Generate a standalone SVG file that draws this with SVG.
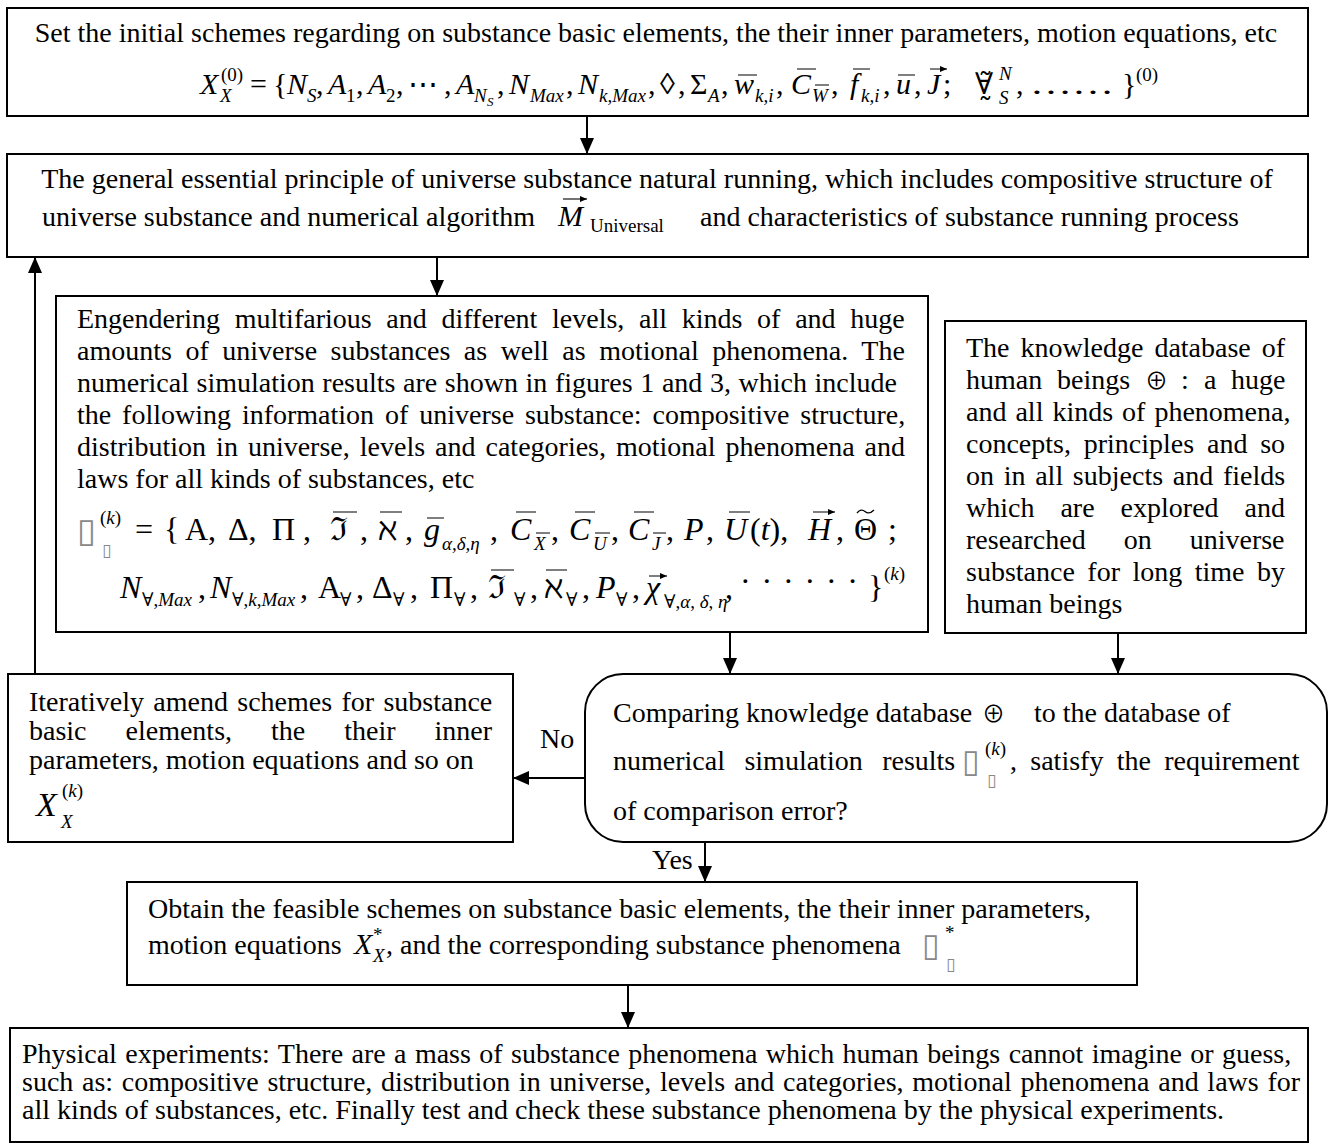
<svg xmlns="http://www.w3.org/2000/svg" width="1330" height="1148" viewBox="0 0 1330 1148">
<defs>
<marker id="ah" markerUnits="userSpaceOnUse" markerWidth="16" markerHeight="14" refX="16" refY="7" orient="auto"><path d="M0,0 L16,7 L0,14 Z" fill="#000"/></marker>
<marker id="vh" markerUnits="userSpaceOnUse" markerWidth="7" markerHeight="6" refX="7" refY="3" orient="auto"><path d="M0,0 L7,3 L0,6 Z" fill="#000"/></marker>
<style>
text{font-family:"Liberation Serif","Times New Roman",serif;fill:#000}
.t{font-size:28px}
.c{text-anchor:middle}
.fi{font-size:30px;font-style:italic}
.fu{font-size:30px}
.Fi{font-size:32px;font-style:italic}
.Fu{font-size:32px}
.s{font-size:19px}
.si{font-size:19px;font-style:italic}
.xs{font-size:13px;font-style:italic}
.i{font-style:italic}
.sym{font-family:"DejaVu Serif","Liberation Serif",serif}
.op{font-family:"Noto Sans CJK SC","DejaVu Sans",sans-serif}
.tofu{font-family:"DejaVu Sans",sans-serif;fill:#888}
.box{fill:#fff;stroke:#000;stroke-width:2}
.con{fill:none;stroke:#000;stroke-width:2;marker-end:url(#ah)}
.v{fill:none;stroke:#000;stroke-width:1.1;marker-end:url(#vh)}
.tl{fill:none;stroke:#000;stroke-width:1.3}
</style>
</defs>
<g id="connectors">
<path class="con" d="M587,116 V154"/>
<path class="con" d="M437,257 V296"/>
<path class="con" d="M730,632 V674"/>
<path class="con" d="M1118,633 V674"/>
<path class="con" d="M585,778 H513"/>
<path class="con" d="M35,674 V257"/>
<path class="con" d="M705,842 V882"/>
<path class="con" d="M628,985 V1028"/>
<text class="t" x="540" y="748">No</text>
<text class="t" x="652" y="869">Yes</text>
</g>
<g id="n1">
<rect class="box" x="7" y="8" width="1301" height="108"/>
<text class="t c" x="656" y="42">Set the initial schemes regarding on substance basic elements, the their inner parameters, motion equations, etc</text>
<text class="fi" x="200" y="94">X</text><text class="si" x="220" y="102">X</text><text class="s" x="221" y="81">(0)</text>
<text class="fu" x="250" y="94">=</text><text class="fu" x="273" y="94">{</text>
<text class="fi" x="287" y="94">N</text><text class="si" x="307" y="102">S</text><text class="fu" x="316" y="94">,</text>
<text class="fi" x="328" y="94">A</text><text class="s" x="346" y="102">1</text><text class="fu" x="356" y="94">,</text>
<text class="fi" x="368" y="94">A</text><text class="s" x="386" y="102">2</text><text class="fu" x="396" y="94">,</text>
<text class="fu sym" x="408" y="94">⋯</text><text class="fu" x="444" y="94">,</text>
<text class="fi" x="456" y="94">A</text><text class="si" x="474" y="102">N</text><text class="xs" x="487" y="106">S</text><text class="fu" x="497" y="94">,</text>
<text class="fi" x="509" y="94">N</text><text class="si" x="530" y="102">Max</text><text class="fu" x="566" y="94">,</text>
<text class="fi" x="578" y="94">N</text><text class="si" x="599" y="102">k,Max</text><text class="fu" x="648" y="94">,</text>
<text class="fu" x="660" y="94">◊</text><text class="fu" x="678" y="94">,</text>
<text class="fu" x="690" y="94">Σ</text><text class="si" x="708" y="102">A</text><text class="fu" x="721" y="94">,</text>
<text class="fi" x="734" y="94">w</text><text class="si" x="755" y="102">k,i</text><text class="fu" x="776" y="94">,</text>
<text class="fi" x="791" y="94">C</text><text class="si" x="812" y="102">W</text><text class="fu" x="831" y="94">,</text>
<text class="fi" x="850" y="94">f</text><text class="si" x="861" y="102">k,i</text><text class="fu" x="883" y="94">,</text>
<text class="fi" x="896" y="94">u</text><text class="fu" x="914" y="94">,</text>
<text class="fi" x="927" y="94">J</text><text class="fu" x="943" y="94">;</text>
<text class="fu sym" x="975" y="94">∀̰̃</text>
<text class="si" x="999" y="80">N</text><text class="si" x="999" y="104">S</text><text class="fu" x="1016" y="94">,</text>
<text class="fu" x="1030" y="94" textLength="84" lengthAdjust="spacingAndGlyphs">……</text>
<text class="fu" x="1122" y="94">}</text><text class="s" x="1136" y="81">(0)</text>
<path class="v" d="M738,75 H757 M797,69 H816 M815,85 H829 M853,69 H870 M898,75 H915 M930,69 H947"/>
</g>
<g id="n2">
<rect class="box" x="7" y="154" width="1301" height="103"/>
<text class="t c" x="657" y="188">The general essential principle of universe substance natural running, which includes compositive structure of</text>
<text class="t" x="42" y="226">universe substance and numerical algorithm</text>
<text class="fi" x="558" y="226">M</text><text class="s" x="590" y="232" font-size="17">Universal</text>
<path class="v" d="M563,199 H587"/>
<text class="t" x="700" y="226">and characteristics of substance running process</text>
</g>
<g id="n3">
<rect class="box" x="56" y="296" width="872" height="336"/>
<text class="t" x="77" y="328" word-spacing="7.7">Engendering multifarious and different levels, all kinds of and huge</text>
<text class="t" x="77" y="360" word-spacing="6.5">amounts of universe substances as well as motional phenomena. The</text>
<text class="t" x="77" y="392" word-spacing="0.6">numerical simulation results are shown in figures 1 and 3, which include</text>
<text class="t" x="77" y="424" word-spacing="3.9">the following information of universe substance: compositive structure,</text>
<text class="t" x="77" y="456" word-spacing="3">distribution in universe, levels and categories, motional phenomena and</text>
<text class="t" x="77" y="488">laws for all kinds of substances, etc</text>
<text class="tofu" x="77" y="542" font-size="34">▯</text><text class="s" x="100" y="524">(<tspan class="i">k</tspan>)</text><text class="tofu" x="102" y="556" font-size="17">▯</text>
<text class="Fu" x="135" y="540">=</text><text class="Fu" x="164" y="540">{</text>
<text class="Fu" x="185" y="540">Α,</text>
<text class="Fu" x="228" y="540">Δ,</text>
<text class="Fu" x="272" y="540">Π ,</text>
<text class="Fu sym" x="330" y="540">ℑ</text><text class="Fu" x="360" y="540">,</text>
<text class="Fu sym" x="378" y="540">ℵ</text><text class="Fu" x="405" y="540">,</text>
<text class="Fi" x="424" y="540">g</text><text class="si" x="442" y="550">α,δ,η</text><text class="Fu" x="490" y="540">,</text>
<text class="Fi" x="510" y="540">C</text><text class="si" x="534" y="550">X</text><text class="Fu" x="551" y="540">,</text>
<text class="Fi" x="569" y="540">C</text><text class="si" x="593" y="550">U</text><text class="Fu" x="611" y="540">,</text>
<text class="Fi" x="628" y="540">C</text><text class="si" x="652" y="550">J</text><text class="Fu" x="666" y="540">,</text>
<text class="Fi" x="684" y="540">P</text><text class="Fu" x="706" y="540">,</text>
<text class="Fi" x="724" y="540">U</text><text class="Fu" x="750" y="540">(<tspan class="i">t</tspan>),</text>
<text class="Fi" x="808" y="540">H</text><text class="Fu" x="836" y="540">,</text>
<text class="Fu" x="854" y="540">Θ</text><path class="tl" d="M857,513 q4,-5 8,-1.5 t9,-1.5"/><text class="Fu" x="888" y="540">;</text>
<path class="v" d="M333,512 H357 M380,512 H402 M427,518 H444 M516,512 H536 M536,533 H550 M575,512 H595 M595,533 H610 M634,512 H654 M653,533 H666 M729,512 H750 M813,512 H835"/>
<text class="Fi" x="120" y="598">N</text><text class="s" x="142" y="606"><tspan class="sym">∀</tspan>,<tspan class="i">Max</tspan></text><text class="Fu" x="198" y="598">,</text>
<text class="Fi" x="210" y="598">N</text><text class="s" x="232" y="606"><tspan class="sym">∀</tspan>,<tspan class="i">k</tspan>,<tspan class="i">Max</tspan></text><text class="Fu" x="300" y="598">,</text>
<text class="Fu" x="318" y="598">Α</text><text class="s sym" x="340" y="606">∀</text><text class="Fu" x="356" y="598">,</text>
<text class="Fu" x="372" y="598">Δ</text><text class="s sym" x="393" y="606">∀</text><text class="Fu" x="410" y="598">,</text>
<text class="Fu" x="430" y="598">Π</text><text class="s sym" x="454" y="606">∀</text><text class="Fu" x="470" y="598">,</text>
<text class="Fu sym" x="488" y="598">ℑ</text><text class="s sym" x="514" y="606">∀</text><text class="Fu" x="530" y="598">,</text>
<text class="Fu sym" x="544" y="598">ℵ</text><text class="s sym" x="566" y="606">∀</text><text class="Fu" x="582" y="598">,</text>
<text class="Fi" x="596" y="598">P</text><text class="s sym" x="616" y="606">∀</text><text class="Fu" x="632" y="598">,</text>
<text class="Fi" x="646" y="598">χ</text><text class="s" x="664" y="608"><tspan class="sym">∀</tspan>,<tspan class="i">α</tspan>, <tspan class="i">δ</tspan>, <tspan class="i">η</tspan></text><text class="Fu" x="725" y="598">,</text>
<text class="Fu" x="740" y="592" textLength="118" lengthAdjust="spacing">······</text>
<text class="Fu" x="868" y="598">}</text><text class="s" x="884" y="580">(<tspan class="i">k</tspan>)</text>
<path class="v" d="M491,570 H514 M546,570 H567 M649,576 H667"/>
</g>
<g id="n4">
<rect class="box" x="945" y="321" width="361" height="312"/>
<text class="t" x="966" y="357" word-spacing="4">The knowledge database of</text>
<text class="t" x="966" y="389">human</text><text class="t" x="1057" y="389">beings</text><text class="op" x="1145" y="389" font-size="23">⊕</text><text class="t" x="1181" y="389">:</text><text class="t" x="1204" y="389">a</text><text class="t" x="1231" y="389">huge</text>
<text class="t" x="966" y="421" word-spacing="2">and all kinds of phenomena,</text>
<text class="t" x="966" y="453" word-spacing="5.8">concepts, principles and so</text>
<text class="t" x="966" y="485" word-spacing="2.7">on in all subjects and fields</text>
<text class="t" x="966" y="517" word-spacing="19">which are explored and</text>
<text class="t" x="966" y="549" word-spacing="31">researched on universe</text>
<text class="t" x="966" y="581" word-spacing="5.5">substance for long time by</text>
<text class="t" x="966" y="613">human beings</text>
</g>
<g id="n5">
<rect class="box" x="8" y="674" width="505" height="168"/>
<text class="t" x="29" y="711" word-spacing="2.3">Iteratively amend schemes for substance</text>
<text class="t" x="29" y="740" word-spacing="32">basic elements, the their inner</text>
<text class="t" x="29" y="769">parameters, motion equations and so on</text>
<text class="i" x="36" y="816" font-size="34">X</text><text class="si" x="61" y="828" font-size="21">X</text><text class="s" x="62" y="797" font-size="21">(<tspan class="i">k</tspan>)</text>
</g>
<g id="n6">
<rect class="box" x="585" y="674" width="742" height="168" rx="38" ry="38"/>
<text class="t" x="613" y="722">Comparing knowledge database</text><text class="op" x="982" y="722" font-size="23">⊕</text><text class="t" x="1034" y="722">to the database of</text>
<text class="t" x="613" y="770" word-spacing="12.5">numerical simulation results</text>
<text class="tofu" x="962" y="772" font-size="32">▯</text><text class="s" x="985" y="755">(<tspan class="i">k</tspan>)</text><text class="tofu" x="987" y="786" font-size="17">▯</text>
<text class="t" x="1010" y="770" word-spacing="6.3">, satisfy the requirement</text>
<text class="t" x="613" y="820">of comparison error?</text>
</g>
<g id="n7">
<rect class="box" x="127" y="882" width="1010" height="103"/>
<text class="t" x="148" y="918">Obtain the feasible schemes on substance basic elements, the their inner parameters,</text>
<text class="t" x="148" y="954">motion equations</text>
<text class="fi" x="354" y="954">X</text><text class="s" x="373" y="941">*</text><text class="si" x="373" y="962">X</text>
<text class="t" x="386" y="954">, and the corresponding substance phenomena</text>
<text class="tofu" x="922" y="956" font-size="32">▯</text><text class="s" x="945" y="939">*</text><text class="tofu" x="946" y="970" font-size="17">▯</text>
</g>
<g id="n8">
<rect class="box" x="10" y="1028" width="1298" height="114"/>
<text class="t" x="22" y="1063" word-spacing="1.4">Physical experiments: There are a mass of substance phenomena which human beings cannot imagine or guess,</text>
<text class="t" x="22" y="1091" word-spacing="1.7">such as: compositive structure, distribution in universe, levels and categories, motional phenomena and laws for</text>
<text class="t" x="22" y="1119">all kinds of substances, etc. Finally test and check these substance phenomena by the physical experiments.</text>
</g>
</svg>
